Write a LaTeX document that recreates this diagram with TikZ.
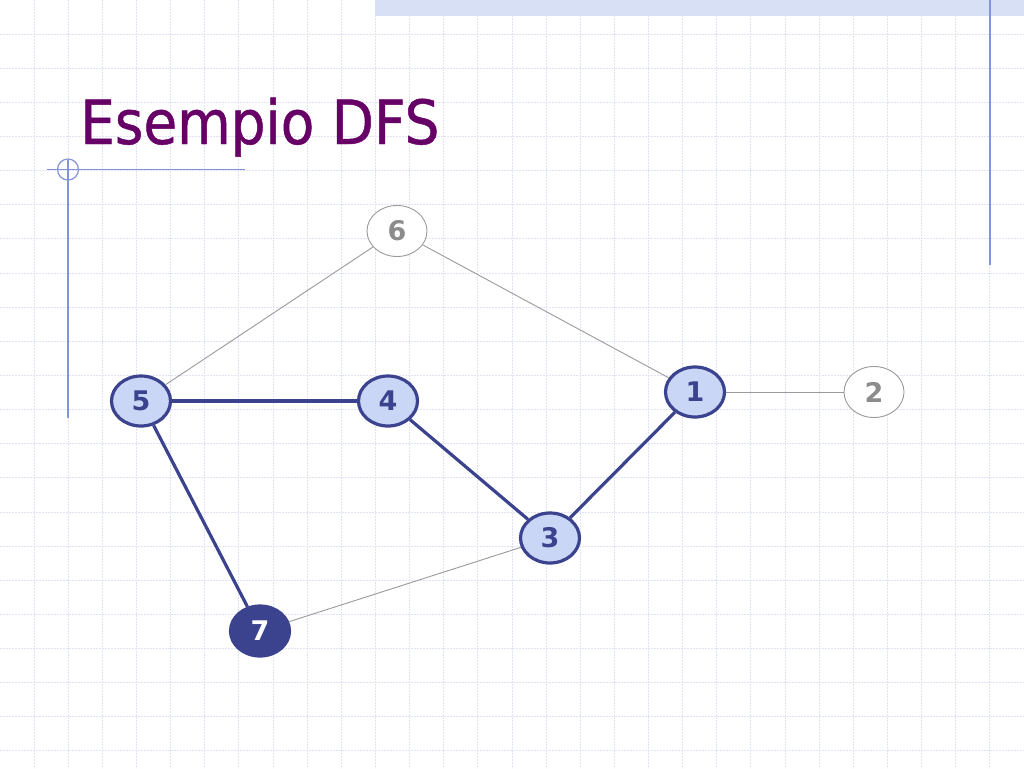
\documentclass[tikz,border=0pt]{standalone}
\usepackage{fontspec}
\setmainfont{DejaVu Sans}
\newfontfamily\titlefont[FakeBold=0.8]{DejaVu Sans Condensed}
\usetikzlibrary{shapes.geometric}
\definecolor{gridc}{HTML}{DFE3F5}
\definecolor{bandc}{HTML}{D8E0F5}
\definecolor{decoc}{HTML}{8494D8}
\definecolor{navy}{HTML}{3C438E}
\definecolor{lightfill}{HTML}{CAD6F6}
\definecolor{greyc}{HTML}{9A9A9A}
\definecolor{greytext}{HTML}{8C8C8C}
\definecolor{titlec}{HTML}{660066}
\tikzset{
  vnode/.style={ellipse, draw=navy, line width=3.2pt, fill=lightfill, text=navy,
    minimum width=59pt, minimum height=50pt, inner sep=0pt, font=\bfseries\fontsize{27}{27}\selectfont},
  gnode/.style={ellipse, draw=greyc, line width=0.9pt, fill=white, text=greytext,
    minimum width=60pt, minimum height=51pt, inner sep=0pt, font=\bfseries\fontsize{27}{27}\selectfont},
  dnode/.style={ellipse, draw=navy, line width=3.2pt, fill=navy, text=white,
    minimum width=59pt, minimum height=50pt, inner sep=0pt, font=\bfseries\fontsize{27}{27}\selectfont},
  tedge/.style={draw=navy, line width=3.2pt},
  gedge/.style={draw=greyc, line width=0.9pt},
  gridline/.style={draw=gridc, line width=0.9pt, dash pattern=on 2pt off 1pt},
  deco/.style={draw=decoc, line width=1.2pt}
}
\begin{document}
\begin{tikzpicture}[x=1pt,y=-1pt]
\useasboundingbox (0,0) rectangle (1024,768);
\fill[white] (0,0) rectangle (1024,768);
% grid
\foreach \k in {1,...,29} \draw[gridline] ({\k*34.133},0) -- ({\k*34.133},768);
\foreach \k in {1,...,22} \draw[gridline] (0,{\k*34.133}) -- (1024,{\k*34.133});
% top band
\fill[bandc] (375,0) rectangle (1024,16);
% decorations
\draw[deco] (990,0) -- (990,265);
\draw[deco] (47,169.5) -- (245,169.5);
\draw[deco] (68,160) -- (68,418);
\draw[deco] (68,169.5) circle (10.5);
% title
\node[anchor=base west, inner sep=0pt, text=titlec, font=\titlefont\fontsize{61}{61}\selectfont] (title) at (80,144) {Esempio DFS};
% nodes
\node[gnode] (n6) at (397,231) {6};
\node[vnode] (n5) at (141,401) {5};
\node[vnode] (n4) at (388,401) {4};
\node[vnode] (n1) at (695,392) {1};
\node[gnode] (n2) at (874,392) {2};
\node[vnode] (n3) at (550,538) {3};
\node[dnode] (n7) at (260,631) {7};
% edges
\draw[gedge] (n6) -- (n5);
\draw[gedge] (n6) -- (n1);
\draw[gedge] (n1) -- (n2);
\draw[gedge] (n3) -- (n7);
\draw[tedge] (n5) -- (n4);
\draw[tedge] (n4) -- (n3);
\draw[tedge] (n3) -- (n1);
\draw[tedge] (n5) -- (n7);
\end{tikzpicture}
\end{document}
